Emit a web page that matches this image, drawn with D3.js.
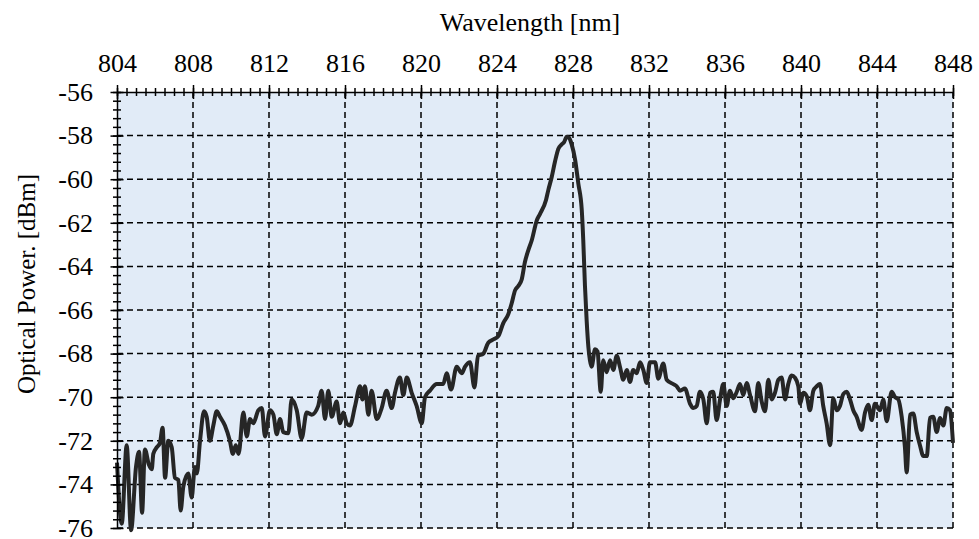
<!DOCTYPE html>
<html>
<head>
<meta charset="utf-8">
<script src="https://cdn.jsdelivr.net/npm/d3@7"></script>
<style>
  body { margin: 0; background: #fff; }
  svg text { font-family: "Liberation Serif", "Times New Roman", serif; fill: #000; }
</style>
</head>
<body>
<div id="chart"></div>
<script>
const wavelength = [
  804.00, 804.25, 804.51, 804.74, 805.00, 805.16, 805.32, 805.47, 805.68, 805.83,
  805.91, 806.09, 806.26, 806.40, 806.53, 806.70, 806.88, 807.05, 807.23, 807.35,
  807.49, 807.75, 807.93, 808.10, 808.20, 808.37, 808.58, 808.72, 808.89, 809.07,
  809.25, 809.42, 809.68, 809.94, 810.10, 810.25, 810.40, 810.65, 810.83, 811.00,
  811.17, 811.44, 811.62, 811.79, 812.05, 812.23, 812.41, 812.58, 812.75, 813.02,
  813.19, 813.46, 813.72, 813.98, 814.25, 814.59, 814.77, 814.95, 815.12, 815.30,
  815.56, 815.74, 815.91, 816.09, 816.26, 816.53, 816.79, 816.92, 817.05, 817.23,
  817.40, 817.67, 817.93, 818.19, 818.46, 818.63, 818.89, 819.07, 819.25, 819.51,
  819.77, 820.04, 820.21, 820.47, 820.83, 821.17, 821.35, 821.58, 821.88, 822.14,
  822.32, 822.58, 822.81, 823.00, 823.28, 823.54, 823.81, 824.07, 824.33, 824.59,
  824.77, 824.95, 825.12, 825.30, 825.47, 825.65, 825.83, 826.09, 826.26, 826.58,
  826.70, 826.88, 827.05, 827.23, 827.41, 827.53, 827.67, 827.79, 827.93, 828.11,
  828.28, 828.46, 828.54, 828.63, 828.72, 828.81, 828.89, 828.98, 829.16, 829.29,
  829.46, 829.59, 829.77, 829.95, 830.12, 830.30, 830.47, 830.65, 830.83, 831.00,
  831.17, 831.35, 831.53, 831.70, 831.88, 832.05, 832.32, 832.49, 832.75, 832.93,
  833.28, 833.46, 833.63, 833.89, 834.16, 834.33, 834.51, 834.68, 834.86, 835.04,
  835.21, 835.38, 835.56, 835.74, 835.91, 836.09, 836.26, 836.44, 836.62, 836.79,
  836.96, 837.14, 837.32, 837.58, 837.75, 837.93, 838.11, 838.28, 838.46, 838.63,
  838.81, 838.98, 839.16, 839.33, 839.51, 839.68, 839.86, 839.95, 840.12, 840.30,
  840.47, 840.65, 840.83, 841.00, 841.17, 841.35, 841.53, 841.70, 841.88, 842.05,
  842.23, 842.41, 842.58, 842.75, 842.93, 843.19, 843.37, 843.54, 843.72, 843.89,
  844.16, 844.33, 844.51, 844.77, 844.95, 845.12, 845.30, 845.47, 845.56, 845.74,
  845.91, 846.09, 846.26, 846.44, 846.62, 846.79, 846.96, 847.14, 847.32, 847.49,
  847.67, 847.84, 848.00
]
const power = [
  -73.0, -75.8, -72.2, -76.1, -73.2, -72.5, -75.3, -72.4, -73.1, -73.3,
  -72.6, -72.3, -72.1, -71.4, -73.7, -72.0, -72.3, -73.7, -73.8, -75.2,
  -74.1, -73.5, -74.6, -73.2, -73.5, -72.0, -70.65, -70.9, -72.0, -71.3,
  -70.65, -70.9, -71.3, -72.0, -72.6, -72.2, -72.6, -70.7, -71.8, -71.0,
  -71.2, -70.6, -70.5, -71.8, -70.6, -70.8, -71.7, -71.0, -71.6, -71.65,
  -70.1, -70.6, -71.9, -70.7, -70.8, -70.4, -69.7, -71.0, -69.7, -70.9,
  -70.2, -71.2, -70.7, -71.2, -71.3, -70.4, -69.5, -70.1, -69.5, -70.8,
  -69.7, -71.0, -70.5, -69.7, -70.5, -69.8, -69.1, -69.9, -69.1, -69.8,
  -70.4, -71.2, -70.0, -69.7, -69.4, -69.4, -68.9, -69.65, -68.6, -68.9,
  -68.6, -68.4, -69.55, -68.1, -68.0, -67.5, -67.35, -67.2, -66.6, -66.2,
  -65.7, -65.1, -64.9, -64.6, -63.8, -63.25, -62.8, -61.9, -61.6, -60.95,
  -60.5, -59.9, -59.2, -58.6, -58.4, -58.3, -58.05, -58.1, -58.4, -59.1,
  -60.2, -61.4, -62.8, -64.9, -66.5, -67.7, -68.3, -68.6, -67.8, -67.9,
  -69.75, -68.3, -68.85, -68.3, -68.75, -68.1, -68.6, -69.2, -68.75, -69.3,
  -68.75, -68.9, -68.4, -68.75, -69.35, -68.4, -68.4, -69.15, -68.45, -69.2,
  -69.4, -69.5, -69.7, -69.6, -70.3, -70.5, -70.4, -69.75, -70.1, -71.2,
  -69.8, -69.75, -71.05, -70.1, -69.4, -70.4, -69.7, -70.05, -69.75, -69.4,
  -69.9, -69.35, -69.9, -70.65, -69.35, -70.2, -70.65, -69.2, -70.1, -69.8,
  -69.2, -69.1, -70.1, -69.4, -69.0, -69.1, -69.5, -70.3, -69.8, -69.95,
  -70.6, -69.7, -69.5, -69.4, -70.4, -71.2, -72.2, -70.05, -70.6, -70.4,
  -69.85, -69.75, -70.1, -70.6, -70.9, -71.5, -70.7, -70.35, -71.05, -70.3,
  -70.6, -70.1, -71.1, -69.75, -70.0, -70.1, -70.9, -72.3, -73.45, -70.8,
  -70.75, -71.6, -72.2, -72.7, -72.7, -70.95, -70.9, -71.6, -70.95, -71.3,
  -70.5, -70.6, -72.1
]
const xTicks = [804, 808, 812, 816, 820, 824, 828, 832, 836, 840, 844, 848]
const yTicks = [-56, -58, -60, -62, -64, -66, -68, -70, -72, -74, -76]

// Dimensiones
const margin = {top: 92, right: 26, bottom: 11, left: 117},
      width = 979 - margin.left - margin.right,
      height = 539 - margin.top - margin.bottom

const serif = "Liberation Serif, Times New Roman, serif"

const svg = d3.select("#chart")
  .append("svg")
    .attr("width", 979)
    .attr("height", 539)
  .append("g")
    .attr("transform", `translate(${margin.left},${margin.top})`)

const x = d3.scaleLinear().domain([804, 848]).range([0, width])
const y = d3.scaleLinear().domain([-76, -56]).range([height, 0])

// Fondo
svg.append("rect")
  .attr("width", width)
  .attr("height", height)
  .attr("fill", "#e1ebf7")

// Rejilla discontinua
svg.append("g").selectAll("line")
  .data(xTicks.slice(1))
  .join("line")
    .attr("x1", d => x(d)).attr("x2", d => x(d))
    .attr("y1", 0).attr("y2", height)
    .attr("stroke", "#000").attr("stroke-width", 1.5)
    .attr("stroke-dasharray", "6,4")

svg.append("g").selectAll("line")
  .data(yTicks.slice(1))
  .join("line")
    .attr("y1", d => y(d)).attr("y2", d => y(d))
    .attr("x1", 0).attr("x2", width)
    .attr("stroke", "#000").attr("stroke-width", 1.5)
    .attr("stroke-dasharray", "6,4")

// Línea del espectro
svg.append("path")
  .datum(d3.range(wavelength.length))
  .attr("fill", "none")
  .attr("stroke", "#262626")
  .attr("stroke-width", 4)
  .attr("stroke-linejoin", "round")
  .attr("d", d3.line()
    .x(i => x(wavelength[i]))
    .y(i => y(power[i]))
    .curve(d3.curveMonotoneX))

// Eje X superior: menores cada 0.5 nm
const xMinor = d3.range(0, 89).map(i => 804 + i * 0.5)
const gxMinor = svg.append("g")
  .call(d3.axisTop(x).tickValues(xMinor).tickSize(4).tickSizeOuter(0).tickFormat(""))
gxMinor.selectAll(".tick line").attr("y2", -4).attr("y1", 4).attr("stroke-width", 1.5)
gxMinor.select(".domain").remove()

const gx = svg.append("g")
  .call(d3.axisTop(x).tickValues(xTicks).tickSize(7).tickSizeOuter(0).tickPadding(13)
    .tickFormat(d => String(d)))
  .attr("font-family", serif)
  .attr("font-size", 26)
gx.selectAll(".tick line").attr("y1", 7).attr("stroke-width", 1.5)
gx.select(".domain").attr("stroke-width", 1.5)

// Eje Y izquierdo: menores cada 0.4 dBm
const yMinor = d3.range(0, 51).map(i => -76 + i * 0.4)
const gyMinor = svg.append("g")
  .call(d3.axisLeft(y).tickValues(yMinor).tickSize(4).tickSizeOuter(0).tickFormat(""))
gyMinor.selectAll(".tick line").attr("x1", 4).attr("stroke-width", 1.5)
gyMinor.select(".domain").remove()

const gy = svg.append("g")
  .call(d3.axisLeft(y).tickValues(yTicks).tickSize(6.5).tickSizeOuter(0).tickPadding(17.5)
    .tickFormat(d => String(d)))
  .attr("font-family", serif)
  .attr("font-size", 26)
gy.selectAll(".tick line").attr("x1", 6.5).attr("stroke-width", 1.5)
gy.select(".domain").attr("stroke-width", 1.5)

d3.selectAll(".tick text").attr("fill", "#000")

// Títulos
d3.select("svg").append("text")
  .attr("x", 530)
  .attr("y", 31)
  .attr("text-anchor", "middle")
  .attr("font-family", serif)
  .attr("font-size", 26)
  .text("Wavelength [nm]")

d3.select("svg").append("text")
  .attr("transform", "translate(35,284) rotate(-90)")
  .attr("text-anchor", "middle")
  .attr("font-family", serif)
  .attr("font-size", 25)
  .text("Optical Power. [dBm]")
</script>
</body>
</html>
